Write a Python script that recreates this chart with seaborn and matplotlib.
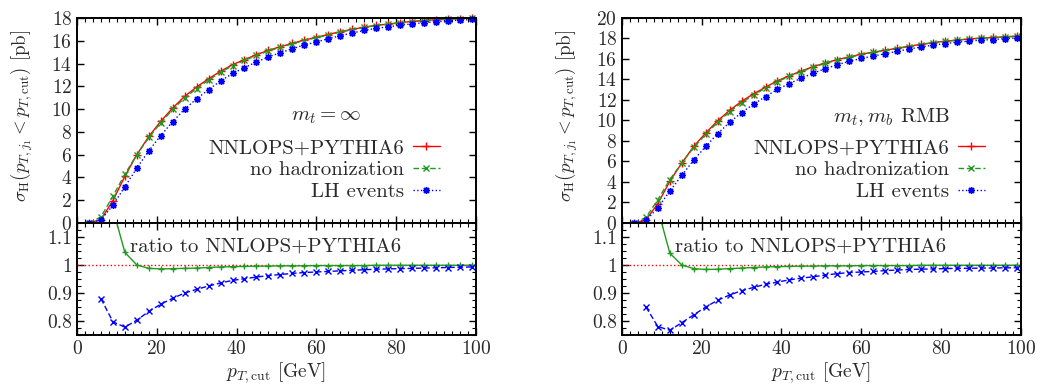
import numpy as np
import pandas as pd
import matplotlib.pyplot as plt
import seaborn as sns
from matplotlib.ticker import MultipleLocator, FuncFormatter
from matplotlib.transforms import ScaledTranslation

# pT,cut grid [GeV]
pt_cut = [3, 6, 9, 12, 15, 18, 21, 24, 27, 30, 33, 36, 39, 42, 45, 48, 51,
          54, 57, 60, 63, 66, 69, 72, 75, 78, 81, 84, 87, 90, 93, 96, 99]

# left panel: m_t = infinity
left_nnlops = [0.0, 0.3, 1.96, 4.1, 6.0, 7.6, 8.93, 10.1, 11.12, 11.94, 12.67,
               13.32, 13.9, 14.34, 14.78, 15.16, 15.48, 15.77, 16.07, 16.3,
               16.55, 16.8, 17.0, 17.2, 17.35, 17.47, 17.59, 17.7, 17.78,
               17.85, 17.9, 17.95, 18.0]
left_nohad_ratio = [np.nan, 1.8, 1.2, 1.045, 1.0, 0.988, 0.986, 0.987, 0.988,
                    0.989, 0.991, 0.993, 0.994, 0.995, 0.996, 0.996, 0.997,
                    0.997, 0.997, 0.998, 0.998, 0.998, 0.998, 0.998, 0.999,
                    0.999, 0.999, 0.999, 0.999, 0.999, 0.999, 0.999, 0.999]
left_lhe_ratio = [np.nan, 0.88, 0.797, 0.778, 0.803, 0.834, 0.86, 0.881, 0.9,
                  0.913, 0.925, 0.936, 0.945, 0.951, 0.957, 0.962, 0.966,
                  0.97, 0.973, 0.975, 0.977, 0.979, 0.981, 0.983, 0.985,
                  0.986, 0.987, 0.988, 0.989, 0.99, 0.991, 0.992, 0.993]

# right panel: m_t, m_b RMB
right_nnlops = [0.0, 0.3, 1.9, 4.07, 5.85, 7.48, 8.78, 9.98, 10.99, 11.87,
                12.6, 13.25, 13.88, 14.37, 14.83, 15.26, 15.62, 15.94, 16.2,
                16.47, 16.67, 16.85, 17.05, 17.25, 17.43, 17.6, 17.73, 17.85,
                17.96, 18.04, 18.1, 18.17, 18.23]
right_nohad_ratio = [np.nan, 1.8, 1.2, 1.042, 1.0, 0.987, 0.984, 0.985, 0.987,
                     0.989, 0.991, 0.993, 0.994, 0.995, 0.996, 0.996, 0.997,
                     0.997, 0.997, 0.998, 0.998, 0.998, 0.998, 0.998, 0.999,
                     0.999, 0.999, 0.999, 0.999, 0.999, 0.999, 0.999, 0.999]
right_lhe_ratio = [np.nan, 0.85, 0.78, 0.767, 0.794, 0.822, 0.85, 0.874, 0.893,
                   0.908, 0.92, 0.931, 0.939, 0.947, 0.953, 0.958, 0.964,
                   0.969, 0.973, 0.975, 0.977, 0.98, 0.982, 0.984, 0.985,
                   0.986, 0.987, 0.988, 0.988, 0.989, 0.989, 0.99, 0.99]

sns.set_theme(style='ticks')
plt.rcParams['font.family'] = ['cmr10', 'DejaVu Serif']
plt.rcParams['mathtext.fontset'] = 'cm'
plt.rcParams['axes.formatter.use_mathtext'] = True
plt.rcParams['axes.unicode_minus'] = False

RED = '#ff0000'
GREEN = '#1f9a1f'
BLUE = '#0000ff'
TXT = '#2a2a2a'
asterisk = (8, 2, 0)

fig = plt.figure(figsize=(10.41, 3.87), dpi=100)


def style_axis(ax):
    for s in ax.spines.values():
        s.set_linewidth(1.4)
        s.set_color('black')
    ax.tick_params(which='both', direction='in', top=True, right=True,
                   labelsize=14, labelcolor=TXT, color='black')
    ax.tick_params(which='major', length=5, width=1)
    ax.tick_params(which='minor', length=3, width=0.8)


def line(df, y, ax, color, marker, ms, ls, **kw):
    sns.lineplot(data=df, x='pt', y=y, ax=ax, color=color, marker=marker,
                 markersize=ms, markeredgewidth=1.0, markeredgecolor=color,
                 markerfacecolor=color, linewidth=1, linestyle=ls, **kw)


def draw(x0, red, g_ratio, b_ratio, ytop, note, note_x):
    ax = fig.add_axes([x0, 0.4238, 0.383, 0.5297])
    axr = fig.add_axes([x0, 0.1344, 0.383, 0.2894], sharex=ax)

    df = pd.DataFrame({'pt': pt_cut, 'nnlops': red,
                       'nohad_ratio': g_ratio, 'lhe_ratio': b_ratio})
    df['nohad'] = (df['nnlops'] * df['nohad_ratio']).fillna(0)
    df['lhe'] = (df['nnlops'] * df['lhe_ratio']).fillna(0)

    line(df, 'nnlops', ax, RED, '+', 5.5, '-', clip_on=False,
         label='NNLOPS+PYTHIA6')
    line(df, 'nohad', ax, GREEN, 'x', 4, (0, (4, 2)), clip_on=False,
         label='no hadronization')
    line(df, 'lhe', ax, BLUE, asterisk, 5, ':', clip_on=False,
         label='LH events')

    ax.set_xlim(0, 100)
    ax.set_ylim(0, ytop)
    ax.yaxis.set_major_locator(MultipleLocator(2))
    ax.xaxis.set_major_locator(MultipleLocator(20))
    ax.tick_params(labelbottom=False)
    ax.set_xlabel('')
    ax.set_ylabel(r'$\sigma_{\rm H}(p_{T,j_1} < p_{T,{\rm cut}})$ [pb]',
                  fontsize=13.5, color=TXT, labelpad=4)
    ax.yaxis.set_label_coords(-0.105, 0.52)
    style_axis(ax)
    # lift the "0" label a little so it clears the ratio panel's "1.1"
    fig.canvas.draw()
    lab0 = ax.get_yticklabels()[0]
    lab0.set_transform(lab0.get_transform() +
                       ScaledTranslation(0, 4 / 72, fig.dpi_scale_trans))

    leg = ax.legend(loc='upper right', bbox_to_anchor=(0.91, 0.41),
                    frameon=False, markerfirst=False, fontsize=15,
                    handlelength=1.3, handletextpad=0.4, labelspacing=0.16,
                    borderpad=0, borderaxespad=0)
    for t in leg.get_texts():
        t.set_color(TXT)
    ax.text(note_x, 0.515, note, transform=ax.transAxes, ha='center',
            va='center', fontsize=15, color=TXT)

    # ratio panel
    axr.axhline(1, color=RED, lw=1, linestyle=':')
    line(df, 'nohad_ratio', axr, GREEN, '+', 5, '-')
    line(df, 'lhe_ratio', axr, BLUE, 'x', 4.5, (0, (4, 2)))
    axr.set_xlim(0, 100)
    axr.set_ylim(0.75, 1.15)
    axr.xaxis.set_major_locator(MultipleLocator(20))
    axr.xaxis.set_minor_locator(MultipleLocator(2))
    axr.yaxis.set_major_locator(MultipleLocator(0.1))
    axr.yaxis.set_minor_locator(MultipleLocator(0.025))
    axr.yaxis.set_major_formatter(FuncFormatter(lambda v, p: '%g' % round(v, 3)))
    axr.set_ylabel('')
    axr.set_xlabel(r'$p_{T,{\rm cut}}$ [GeV]', fontsize=14, color=TXT,
                   labelpad=2)
    style_axis(axr)
    leg_r = axr.get_legend()
    if leg_r is not None:
        leg_r.remove()
    axr.text(0.134, 0.79, 'ratio to NNLOPS+PYTHIA6', transform=axr.transAxes,
             ha='left', va='center', fontsize=15, color=TXT)


draw(0.074, left_nnlops, left_nohad_ratio, left_lhe_ratio, 18,
     r'$m_t = \infty$', 0.624)
draw(0.5975, right_nnlops, right_nohad_ratio, right_lhe_ratio, 20,
     r'$m_t, m_b$ RMB', 0.677)

fig.savefig('out.png', dpi=100)
